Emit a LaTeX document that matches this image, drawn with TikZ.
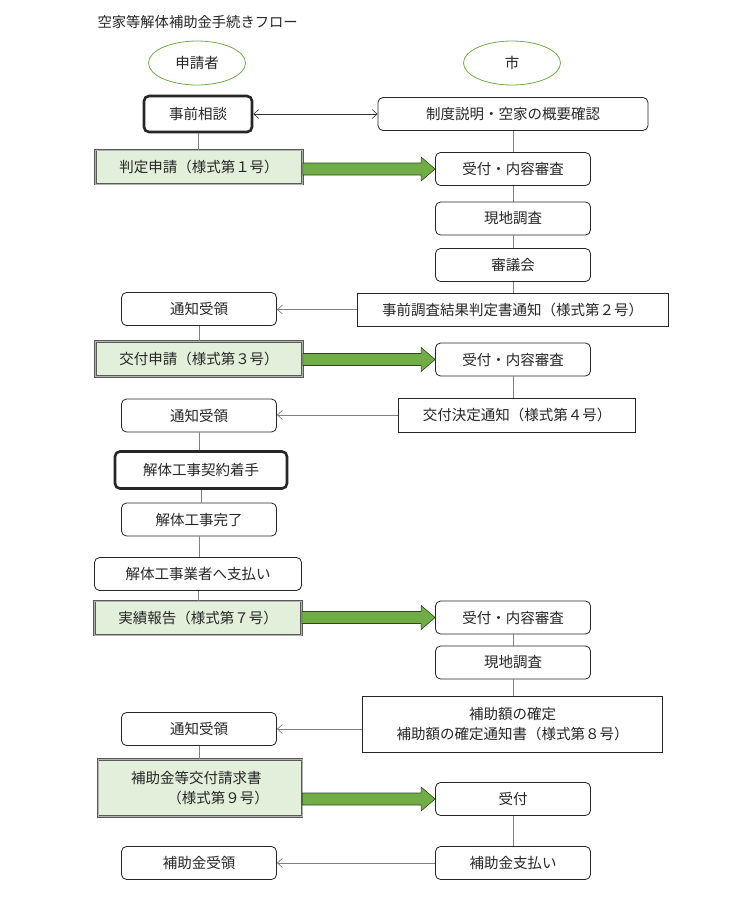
\documentclass[tikz,border=0pt]{standalone}
\usepackage{fontspec}
\newfontfamily\jp{Noto Sans CJK JP}
\usetikzlibrary{arrows.meta,shapes.geometric,calc}
\definecolor{gfill}{RGB}{226,239,218}
\definecolor{garrow}{RGB}{112,173,71}
\definecolor{garrowline}{RGB}{45,70,30}
\definecolor{gline}{RGB}{128,128,128}
\newcommand\grarrow[2]{\path let \p1=(#1.east), \p2=(#2.west) in
  [draw=garrowline, fill=garrow, line width=0.6pt, line join=miter]
  (\x1,\y2+6pt) -- (\x2-14pt,\y2+6pt) -- (\x2-14pt,\y2+12pt) -- (\x2,\y2)
  -- (\x2-14pt,\y2-12pt) -- (\x2-14pt,\y2-6pt) -- (\x1,\y2-6pt) -- cycle;}
\begin{document}
\begin{tikzpicture}[x=1pt,y=-1pt,
  font=\jp\fontsize{14.5}{20}\selectfont,
  box/.style={draw=black!85, line width=0.8pt, rounded corners=5pt, minimum height=33pt, minimum width=155pt, inner sep=0pt, fill=white, text=black!85},
  thickbox/.style={box, line width=2.6pt},
  sqbox/.style={draw=black!85, line width=0.9pt, minimum height=33pt, inner sep=0pt, fill=white, text=black!85},
  greenbox/.style={draw=black!65, double=black!30, line width=0.8pt, double distance=0.7pt, fill=gfill, minimum height=34pt, minimum width=207pt, inner sep=0pt, text=black!85},
  actor/.style={ellipse, draw=garrow, line width=0.8pt, minimum width=97pt, minimum height=44pt, inner sep=0pt, text=black!85},
  conn/.style={draw=gline, line width=0.7pt},
  back/.style={conn, -{Straight Barb[length=5pt,width=9pt]}},
  both/.style={draw=black!80, line width=0.6pt, {Straight Barb[length=5pt,width=9pt]}-{Straight Barb[length=5pt,width=9pt]}}
]
\useasboundingbox (0,0) rectangle (738,898);
\fill[white] (0,0) rectangle (738,898);

\node[anchor=west, text=black!85, font=\jp\fontsize{14.3}{16}\selectfont] (title) at (94,22) {空家等解体補助金手続きフロー};

\node[actor] (e1) at (197,63) {申請者};
\node[actor] (e2) at (512,63) {市};

% left column
\node[thickbox, minimum width=108pt, minimum height=36pt] (a1) at (198,114) {事前相談};
\node[greenbox] (a2) at (199,167) {判定申請（様式第１号）};
\node[box] (a3) at (199,309) {通知受領};
\node[greenbox, minimum height=35pt] (a4) at (199,359) {交付申請（様式第３号）};
\node[box] (a5) at (199,415.5) {通知受領};
\node[thickbox, minimum width=172pt, minimum height=37pt] (a6) at (201,470) {解体工事契約着手};
\node[box] (a7) at (199,519.5) {解体工事完了};
\node[box, minimum width=207pt] (a8) at (198,574) {解体工事業者へ支払い};
\node[greenbox] (a9) at (198,618) {実績報告（様式第７号）};
\node[box] (a10) at (199,729) {通知受領};
\node[greenbox, minimum width=204pt, minimum height=57pt, align=left] (a11) at (200,788) {補助金等交付請求書\\\hspace*{2.5em}（様式第９号）};
\node[box] (a12) at (199,863) {補助金受領};

% right column
\node[box, minimum width=270pt] (b1) at (513,114) {制度説明・空家の概要確認};
\node[box] (b2) at (513,169) {受付・内容審査};
\node[box] (b3) at (513,218.5) {現地調査};
\node[box] (b4) at (513,265) {審議会};
\node[sqbox, minimum width=311pt] (b5) at (512.5,309.5) {事前調査結果判定書通知（様式第２号）};
\node[box] (b6) at (513,359.5) {受付・内容審査};
\node[sqbox, minimum width=237pt, minimum height=34pt] (b7) at (517,415) {交付決定通知（様式第４号）};
\node[box] (b8) at (513,617.5) {受付・内容審査};
\node[box] (b9) at (513,662.5) {現地調査};
\node[sqbox, minimum width=300pt, minimum height=56pt, align=center] (b10) at (512.5,724.5) {補助額の確定\\補助額の確定通知書（様式第８号）};
\node[box] (b11) at (513,799) {受付};
\node[box] (b12) at (513,863) {補助金支払い};

% vertical connectors, left
\foreach \u/\v in {a1/a2, a3/a4, a5/a6, a6/a7, a7/a8, a8/a9, a10/a11}
  \draw[conn] (\u.south) -- (\u.south |- \v.north);
% vertical connectors, right
\foreach \u/\v in {b1/b2, b2/b3, b3/b4, b4/b5, b6/b7, b8/b9, b9/b10, b11/b12}
  \draw[conn] (\u.south) -- (\u.south |- \v.north);

% horizontal
\draw[both] (a1.east) -- (b1.west);
\draw[back] (b5.west) -- (b5.west -| a3.east);
\draw[back] (b7.west) -- (b7.west -| a5.east);
\draw[back] (b10.west |- a10.east) -- (a10.east);
\draw[back] (b12.west) -- (b12.west -| a12.east);

% green arrows
\grarrow{a2}{b2}
\grarrow{a4}{b6}
\grarrow{a9}{b8}
\grarrow{a11}{b11}
\end{tikzpicture}
\end{document}
